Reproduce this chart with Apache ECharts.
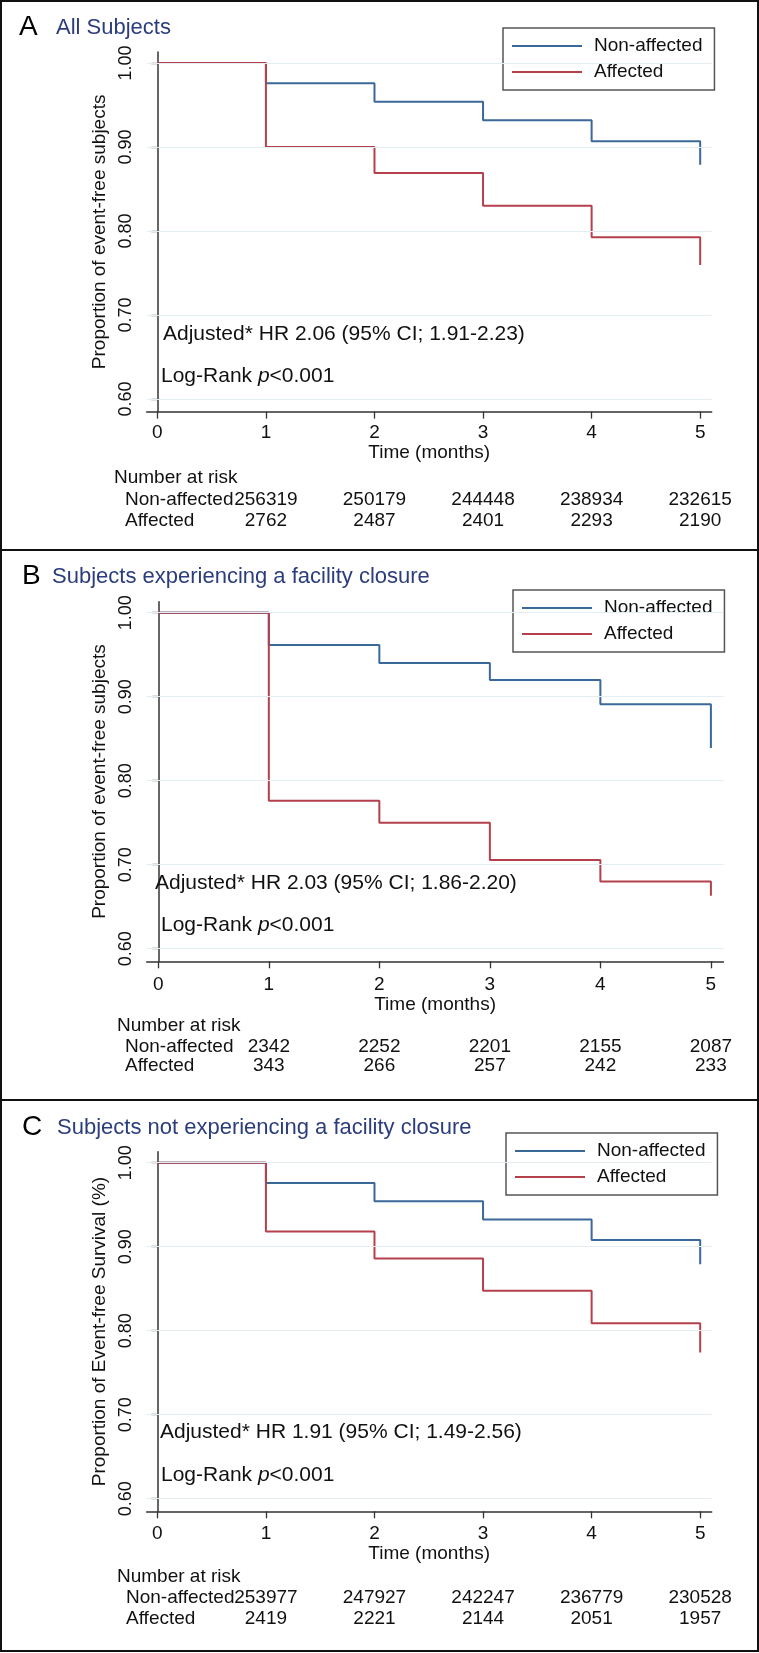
<!DOCTYPE html>
<html>
<head>
<meta charset="utf-8">
<script src="https://cdn.jsdelivr.net/npm/echarts@6/dist/echarts.min.js"></script>
<style>
html,body{margin:0;padding:0;background:#fff;}
#chart{width:759px;height:1653px;}
</style>
</head>
<body>
<div id="chart"></div>
<script>
// ---------------- DATA ----------------
const times = [0, 1, 2, 3, 4, 5];
const xTicks = [0, 1, 2, 3, 4, 5];
const yTicks = [0.6, 0.7, 0.8, 0.9, 1.0];
const riskTimes = [1, 2, 3, 4, 5];
const seriesNames = ['Non-affected', 'Affected'];

const panelTitles = ['All Subjects', 'Subjects experiencing a facility closure', 'Subjects not experiencing a facility closure'];
const panelLetters = ['A', 'B', 'C'];
const yAxisNames = ['Proportion of event-free subjects', 'Proportion of event-free subjects', 'Proportion of Event-free Survival (%)'];
const xAxisName = 'Time (months)';

const aNonAffected = [1.000, 0.976, 0.954, 0.932, 0.907, 0.879];
const aAffected    = [1.000, 0.900, 0.869, 0.830, 0.7925, 0.7595];
const bNonAffected = [1.000, 0.9615, 0.940, 0.920, 0.891, 0.839];
const bAffected    = [1.000, 0.776, 0.750, 0.7055, 0.680, 0.663];
const cNonAffected = [1.000, 0.976, 0.954, 0.9325, 0.908, 0.879];
const cAffected    = [1.000, 0.918, 0.886, 0.8475, 0.809, 0.774];

const aRiskNon = ['256319', '250179', '244448', '238934', '232615'];
const aRiskAff = ['2762', '2487', '2401', '2293', '2190'];
const bRiskNon = ['2342', '2252', '2201', '2155', '2087'];
const bRiskAff = ['343', '266', '257', '242', '233'];
const cRiskNon = ['253977', '247927', '242247', '236779', '230528'];
const cRiskAff = ['2419', '2221', '2144', '2051', '1957'];

const hrTexts = ['Adjusted* HR 2.06 (95% CI; 1.91-2.23)', 'Adjusted* HR 2.03 (95% CI; 1.86-2.20)', 'Adjusted* HR 1.91 (95% CI; 1.49-2.56)'];
const logRankP = '<0.001';

// ---------------- STYLE / LAYOUT ----------------
const FONT = '"Liberation Sans", Arial, sans-serif';
const BLUE = '#3a6898';
const RED = '#b4404c';
const NAVY = '#2b3d7c';
const GRIDC = '#e3edf2';

const panels = [
  { non: aNonAffected, aff: aAffected, rNon: aRiskNon, rAff: aRiskAff,
    grid: {left: 146.7, top: 52.1, width: 565, height: 359.5},
    xMin: -0.098, xMax: 5.106, xLabelMargin: 12, xNameGap: 30,
    legend: {left: 503, top: 28},
    letter: {x: 19, y: 27}, title: {x: 56, y: 28},
    hr: {x: 163, y: 334}, lr: {x: 161, y: 376},
    nar: {x: 114, y: 478}, rowX: 125, rowY: [500, 521] },
  { non: bNonAffected, aff: bAffected, rNon: bRiskNon, rAff: bRiskAff,
    grid: {left: 146.7, top: 601.8, width: 576.8, height: 359.5},
    xMin: -0.105, xMax: 5.114, xLabelMargin: 14, xNameGap: 32,
    legend: {left: 513, top: 590},
    letter: {x: 22, y: 576}, title: {x: 52, y: 577},
    hr: {x: 155, y: 883}, lr: {x: 161, y: 925},
    nar: {x: 117, y: 1026}, rowX: 125, rowY: [1047, 1066] },
  { non: cNonAffected, aff: cAffected, rNon: cRiskNon, rAff: cRiskAff,
    grid: {left: 146.7, top: 1151.8, width: 565, height: 359.5},
    xMin: -0.098, xMax: 5.106, xLabelMargin: 13, xNameGap: 31,
    legend: {left: 506, top: 1133},
    letter: {x: 22, y: 1127}, title: {x: 57, y: 1128},
    hr: {x: 160, y: 1432}, lr: {x: 161, y: 1475},
    nar: {x: 117, y: 1577}, rowX: 126, rowY: [1598, 1619] }
];

const chart = echarts.init(document.getElementById('chart'), null, {renderer: 'canvas'});

const grids = [], xAxes = [], yAxes = [], series = [], legends = [];
panels.forEach((p, i) => {
  grids.push(Object.assign({containLabel: false}, p.grid));
  xAxes.push({
    type: 'value', gridIndex: i, min: p.xMin, max: p.xMax,
    name: xAxisName, nameLocation: 'middle', nameGap: p.xNameGap,
    nameTextStyle: {fontFamily: FONT, fontSize: 19, color: '#111'},
    axisLine: {show: true, onZero: false, lineStyle: {color: '#333', width: 1.5}},
    axisTick: {show: true, length: 7, lineStyle: {color: '#333', width: 1.3}, customValues: xTicks},
    axisLabel: {show: true, customValues: xTicks, margin: p.xLabelMargin, fontFamily: FONT, fontSize: 19, color: '#111',
                formatter: v => String(v)},
    splitLine: {show: false}
  });
  yAxes.push({
    type: 'value', gridIndex: i, min: 0.585, max: 1.013,
    name: yAxisNames[i], nameLocation: 'middle', nameRotate: 90, nameGap: 33,
    nameTextStyle: {fontFamily: FONT, fontSize: 19, color: '#111'},
    axisLine: {show: true, lineStyle: {color: '#333', width: 1.5}},
    axisTick: {show: true, length: 6, lineStyle: {color: '#333', width: 1.3}, customValues: yTicks},
    axisLabel: {show: true, customValues: yTicks, rotate: 90, margin: 12, fontFamily: FONT, fontSize: 18, color: '#111',
                formatter: v => v.toFixed(2)},
    splitLine: {show: false}
  });
  series.push({
    name: seriesNames[0], type: 'line', xAxisIndex: i, yAxisIndex: i, step: 'end',
    data: times.map((t, k) => [t, p.non[k]]), symbol: 'none', color: BLUE,
    lineStyle: {color: BLUE, width: 2}, z: 3, silent: true, animation: false,
    markLine: {silent: true, symbol: ['none', 'none'], label: {show: false}, animation: false,
               lineStyle: {color: GRIDC, width: 1.2, type: 'solid'},
               data: yTicks.map(v => ({yAxis: v}))}
  });
  series.push({
    name: seriesNames[1], type: 'line', xAxisIndex: i, yAxisIndex: i, step: 'end',
    data: times.map((t, k) => [t, p.aff[k]]), symbol: 'none', color: RED,
    lineStyle: {color: RED, width: 2}, z: 4, silent: true, animation: false
  });
  legends.push({
    show: true, orient: 'vertical', left: p.legend.left, top: p.legend.top,
    padding: [8, 12, 8, 9], itemGap: 6, itemWidth: 70, itemHeight: 2, icon: 'rect',
    borderColor: '#555', borderWidth: 1.5, backgroundColor: '#fff',
    textStyle: {fontFamily: FONT, fontSize: 19, color: '#111', lineHeight: 20, padding: [0, 0, 0, 7]},
    data: seriesNames, selectedMode: false,
    // restrict legend to this panel's series by index mapping
  });
});

chart.setOption({
  animation: false,
  backgroundColor: '#fff',
  grid: grids, xAxis: xAxes, yAxis: yAxes, series: series, legend: legends
});

// ---------------- GRAPHIC TEXTS (through axis scales for risk table) ----------------
const g = [];
// panel frames
const frames = [[1, 1, 757, 549], [1, 550, 757, 550], [1, 1100, 757, 551]];
frames.forEach(f => g.push({type: 'rect', shape: {x: f[0], y: f[1], width: f[2], height: f[3]},
  style: {fill: null, stroke: '#111', lineWidth: 2}, silent: true, z: 10}));

panels.forEach((p, i) => {
  g.push({type: 'text', x: p.letter.x, y: p.letter.y, style: {text: panelLetters[i], fontFamily: FONT, fontSize: 28,
          fill: '#000', textVerticalAlign: 'middle', textAlign: 'left'}, silent: true, z: 10});
  g.push({type: 'text', x: p.title.x, y: p.title.y, style: {text: panelTitles[i], fontFamily: FONT, fontSize: 22,
          fill: NAVY, textVerticalAlign: 'middle', textAlign: 'left'}, silent: true, z: 10});
  g.push({type: 'text', x: p.hr.x, y: p.hr.y, style: {text: hrTexts[i], fontFamily: FONT, fontSize: 21,
          fill: '#111', textVerticalAlign: 'middle', textAlign: 'left'}, silent: true, z: 10});
  g.push({type: 'text', x: p.lr.x, y: p.lr.y, style: {
          text: '{n|Log-Rank }{i|p}{n|' + logRankP + '}',
          rich: {n: {fontFamily: FONT, fontSize: 21, fill: '#111', color: '#111'},
                 i: {fontFamily: FONT, fontSize: 21, fontStyle: 'italic', fill: '#111', color: '#111'}},
          textVerticalAlign: 'middle', textAlign: 'left'}, silent: true, z: 10});
  g.push({type: 'text', x: p.nar.x, y: p.nar.y, style: {text: 'Number at risk', fontFamily: FONT, fontSize: 19,
          fill: '#111', textVerticalAlign: 'middle', textAlign: 'left'}, silent: true, z: 10});
  [seriesNames[0], seriesNames[1]].forEach((nm, r) => {
    g.push({type: 'text', x: p.rowX, y: p.rowY[r], style: {text: nm, fontFamily: FONT, fontSize: 19,
            fill: '#111', textVerticalAlign: 'middle', textAlign: 'left'}, silent: true, z: 10});
  });
  riskTimes.forEach((t, k) => {
    const px = chart.convertToPixel({xAxisIndex: i}, t);
    g.push({type: 'text', x: px, y: p.rowY[0], style: {text: p.rNon[k], fontFamily: FONT, fontSize: 19,
            fill: '#111', textVerticalAlign: 'middle', textAlign: 'center'}, silent: true, z: 10});
    g.push({type: 'text', x: px, y: p.rowY[1], style: {text: p.rAff[k], fontFamily: FONT, fontSize: 19,
            fill: '#111', textVerticalAlign: 'middle', textAlign: 'center'}, silent: true, z: 10});
  });
});

chart.setOption({graphic: {elements: g}});
</script>
</body>
</html>
